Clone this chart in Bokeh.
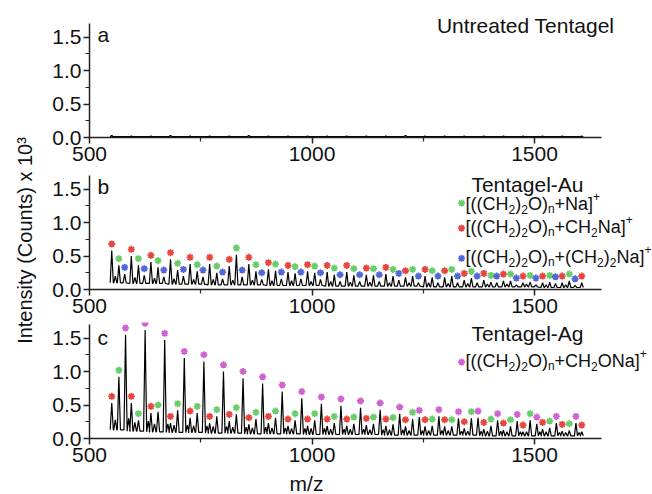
import numpy as np
from bokeh.plotting import figure
from bokeh.layouts import column, row
from bokeh.models import Label, FixedTicker, PrintfTickFormatter, Range1d, ColumnDataSource
from bokeh.embed import file_html
from bokeh.resources import INLINE

# ---------------- data ----------------
x_ticks = [500, 1000, 1500]
x_minor = [750, 1250]
y_ticks = [0.0, 0.5, 1.0, 1.5]
y_minor = [0.25, 0.75, 1.25]
x_axis_span = (500, 1650)
y_axis_span = (0, 1.7)

# peak positions (m/z) of the ion series
red_mz = [550, 594, 638, 682, 726, 770, 814, 858, 902, 946, 990, 1034, 1078,
          1122, 1166, 1210, 1254, 1298, 1342, 1386, 1430, 1474, 1518, 1562, 1606]
green_mz = [566, 610, 654, 698, 742, 786, 830, 874, 918, 962, 1006, 1050,
            1094, 1138, 1182, 1226, 1270, 1314, 1358, 1402, 1446, 1490, 1534, 1578]
blue_mz = [579, 623, 667, 711, 755, 799, 843, 887, 931, 975, 1019, 1063,
           1107, 1151, 1195, 1239, 1283, 1327, 1371, 1415, 1459, 1503, 1547, 1591]
magenta_mz = [581, 625, 669, 713, 757, 801, 845, 889, 933, 977, 1021, 1065,
              1109, 1153, 1197, 1241, 1285, 1329, 1373, 1417, 1461, 1505, 1549, 1593]
# unlabelled small peaks of the traces
minor1_mz = [558, 602, 646, 690, 734, 778, 822, 866, 910, 954, 998, 1042,
             1086, 1130, 1174, 1218, 1262, 1306, 1350, 1394, 1438, 1482, 1526, 1570]
minor2_mz = [588, 632, 676, 720, 764, 808, 852, 896, 940, 984, 1028, 1072,
             1116, 1160, 1204, 1248, 1292, 1336, 1380, 1424, 1468, 1512, 1556, 1600]

# panel a: untreated Tentagel (flat trace)
a_h = [0.03, 0.02, 0.02, 0.03, 0.02, 0.02, 0.02, 0.03, 0.02, 0.02, 0.02, 0.02, 0.02,
       0.02, 0.02, 0.03, 0.02, 0.02, 0.02, 0.02, 0.02, 0.02, 0.02, 0.02, 0.02]
a_valley = [0.01] * 25

# panel b: Tentagel-Au
b_red = [0.58, 0.50, 0.41, 0.45, 0.38, 0.38, 0.35, 0.38, 0.30, 0.26, 0.27, 0.26, 0.26,
         0.22, 0.23, 0.18, 0.20, 0.18, 0.14, 0.14, 0.13, 0.10, 0.10, 0.10, 0.10]
b_green = [0.36, 0.36, 0.33, 0.29, 0.27, 0.25, 0.52, 0.27, 0.28, 0.24, 0.25, 0.22,
           0.21, 0.21, 0.20, 0.20, 0.18, 0.20, 0.17, 0.11, 0.13, 0.11, 0.11, 0.13]
b_blue = [0.23, 0.21, 0.19, 0.20, 0.19, 0.16, 0.19, 0.15, 0.16, 0.16, 0.15, 0.12,
          0.12, 0.12, 0.14, 0.10, 0.10, 0.10, 0.10, 0.10, 0.07, 0.07, 0.09, 0.06]
b_minor1 = [0.20, 0.18, 0.17, 0.16, 0.15, 0.15, 0.14, 0.14, 0.13, 0.13, 0.12, 0.12,
            0.11, 0.11, 0.10, 0.10, 0.10, 0.09, 0.09, 0.08, 0.08, 0.08, 0.07, 0.07]
b_valley = [0.10, 0.09, 0.09, 0.08, 0.08, 0.07, 0.07, 0.07, 0.06, 0.06, 0.06, 0.05, 0.05,
            0.05, 0.05, 0.05, 0.04, 0.04, 0.04, 0.04, 0.04, 0.04, 0.03, 0.03, 0.03]

# panel c: Tentagel-Ag
c_red = [0.53, 0.53, 0.38, 0.23, 0.31, 0.23, 0.26, 0.21, 0.23, 0.19, 0.19, 0.19, 0.19,
         0.20, 0.19, 0.18, 0.18, 0.18, 0.15, 0.14, 0.13, 0.10, 0.14, 0.11, 0.10]
c_green = [0.92, 0.27, 0.40, 0.42, 0.38, 0.33, 0.36, 0.29, 0.31, 0.27, 0.27, 0.23,
           0.22, 0.22, 0.21, 0.29, 0.19, 0.18, 0.30, 0.19, 0.18, 0.27, 0.16, 0.12]
c_magenta = [1.55, 1.62, 1.47, 1.20, 1.15, 1.00, 0.90, 0.82, 0.70, 0.60, 0.52, 0.49,
             0.46, 0.43, 0.37, 0.32, 0.33, 0.30, 0.31, 0.27, 0.26, 0.22, 0.23, 0.23]
c_minor1 = [0.28, 0.24, 0.22, 0.20, 0.19, 0.18, 0.17, 0.16, 0.16, 0.15, 0.15, 0.14,
            0.14, 0.13, 0.13, 0.12, 0.12, 0.12, 0.11, 0.11, 0.10, 0.10, 0.10, 0.09]
c_minor2 = [0.30, 0.26, 0.22, 0.20, 0.19, 0.18, 0.17, 0.17, 0.16, 0.15, 0.15, 0.14,
            0.14, 0.13, 0.13, 0.12, 0.12, 0.11, 0.11, 0.11, 0.10, 0.10, 0.09, 0.09]
c_valley = [0.13, 0.11, 0.10, 0.09, 0.09, 0.08, 0.08, 0.07, 0.07, 0.07, 0.06, 0.06, 0.06,
            0.06, 0.05, 0.05, 0.05, 0.05, 0.05, 0.04, 0.04, 0.04, 0.04, 0.04, 0.04]

titles = ["Untreated Tentagel", "Tentagel-Au", "Tentagel-Ag"]
panel_letters = ["a", "b", "c"]
y_title = "Intensity (Counts) x 10\u00b3"
x_title = "m/z"

# ---------------- style ----------------
FONT = "Liberation Sans"
INK = "#111111"
GREEN = "#6acd6a"
RED = "#e8453f"
BLUE = "#5067d8"
MAGENTA = "#cf62cf"
STAR_LIFT = 0.1
HALF = 3.5
X_VIEW = (500, 1765)
PX_PER_UNIT = 67.0
FULL_W = 652
TITLE_W = 44
PANEL_W = FULL_W - TITLE_W
BASE_FIX = 7   # rendered alphabetic baseline sits lower; lift labels by this

W = {'[': 278, ']': 278, '(': 333, ')': 333, 'C': 722, 'H': 722, 'O': 778,
     'N': 722, 'a': 556, '+': 584, '2': 556, 'n': 556}


def trace(series, valley):
    pts = []
    for mz, hs in series:
        pts += list(zip(mz, hs))
    pts.sort()
    xs, ys = [], []
    for m, h in pts:
        k = min(max(int((m - red_mz[0] + 8) // 44), 0), len(valley) - 1)
        xs += [m - HALF, m, m + HALF]
        ys += [valley[k], h, valley[k]]
    return xs, ys


def make_panel(frame_h, border_bottom=33):
    height = frame_h + border_bottom
    p = figure(width=PANEL_W, height=height, output_backend="svg", toolbar_location=None,
               x_range=Range1d(*X_VIEW), y_range=Range1d(0, frame_h / PX_PER_UNIT),
               min_border_left=45, min_border_right=0,
               min_border_top=0, min_border_bottom=border_bottom)
    p.xgrid.visible = False
    p.ygrid.visible = False
    p.outline_line_color = None
    p.background_fill_color = "white"
    p.border_fill_color = "white"
    p.xaxis.ticker = FixedTicker(ticks=x_ticks, minor_ticks=x_minor)
    p.yaxis.ticker = FixedTicker(ticks=y_ticks, minor_ticks=y_minor)
    p.yaxis.formatter = PrintfTickFormatter(format="%.1f")
    p.xaxis.bounds = x_axis_span
    p.yaxis.bounds = y_axis_span
    for ax in (p.xaxis[0], p.yaxis[0]):
        ax.axis_line_width = 1.5
        ax.axis_line_color = "#222222"
        ax.major_tick_line_color = "#222222"
        ax.minor_tick_line_color = "#222222"
        ax.major_tick_line_width = 1.5
        ax.minor_tick_line_width = 1.2
        ax.major_tick_out = 6
        ax.major_tick_in = 0
        ax.minor_tick_out = 4
        ax.minor_tick_in = 0
        ax.major_label_text_font = FONT
        ax.major_label_text_font_size = "21px"
        ax.major_label_text_color = INK
    p.xaxis.major_label_standoff = 3
    p.yaxis.major_label_standoff = 2
    return p


def stars(p, mz, hs, color):
    src = ColumnDataSource(dict(x=mz, y=[h + STAR_LIFT for h in hs]))
    p.scatter("x", "y", source=src, marker="asterisk", size=7, line_color=color,
              line_width=1.8)


def text(p, x, y, s, size=21, align="left"):
    p.add_layout(Label(x=x, y=y, y_offset=BASE_FIX, text=s, text_font=FONT,
                       text_font_size=f"{size}px", text_align=align,
                       text_baseline="alphabetic", text_color=INK))


def formula(p, x, y, parts):
    off = 0.0
    for txt, kind in parts:
        size = 18 if kind == 'n' else 12
        dy = {'n': 0, 'sub': -5, 'sup': 8}[kind] + 6
        p.add_layout(Label(x=x, y=y, x_offset=off, y_offset=dy, text=txt,
                           text_font=FONT, text_font_size=f"{size}px",
                           text_align="left", text_baseline="alphabetic",
                           text_color=INK))
        off += sum(W[c] for c in txt) / 1000 * size


PEG = [("[((CH", 'n'), ("2", 'sub'), (")", 'n'), ("2", 'sub'), ("O)", 'n'), ("n", 'sub')]
F_NA = PEG + [("+Na]", 'n'), ("+", 'sup')]
F_CH2NA = PEG + [("+CH", 'n'), ("2", 'sub'), ("Na]", 'n'), ("+", 'sup')]
F_C2H4NA = PEG + [("+(CH", 'n'), ("2", 'sub'), (")", 'n'), ("2", 'sub'), ("Na]", 'n'), ("+", 'sup')]
F_CH2ONA = PEG + [("+CH", 'n'), ("2", 'sub'), ("ONa]", 'n'), ("+", 'sup')]

LEG_STAR_X = 1336
LEG_TEXT_X = 1345
STAR_KW = dict(marker="asterisk", size=7, line_width=1.8)

# ---------------- panel a ----------------
pa = make_panel(137)
xs, ys = trace([(red_mz, a_h)], a_valley)
pa.line(xs, ys, line_color="black", line_width=1.5)
text(pa, 518, 1.44, panel_letters[0])
text(pa, 1480, 1.56, titles[0], align="center")

# ---------------- panel b ----------------
pb = make_panel(119)
xs, ys = trace([(red_mz, b_red), (green_mz, b_green), (blue_mz, b_blue),
                (minor1_mz, b_minor1)], b_valley)
pb.line(xs, ys, line_color="black", line_width=1.2)
stars(pb, red_mz, b_red, RED)
stars(pb, green_mz, b_green, GREEN)
stars(pb, blue_mz, b_blue, BLUE)
text(pb, 518, 1.43, panel_letters[1])
text(pb, 1484, 1.47, titles[1], align="center")
leg_b = [(F_NA, GREEN, 1.29, 1.18), (F_CH2NA, RED, 0.915, 0.84), (F_C2H4NA, BLUE, 0.465, 0.39)]
for parts, col, sy, ty in leg_b:
    pb.scatter([LEG_STAR_X], [sy], line_color=col, **STAR_KW)
    formula(pb, LEG_TEXT_X, ty, parts)

# ---------------- panel c ----------------
pc = make_panel(116)
xs, ys = trace([(red_mz, c_red), (green_mz, c_green), (magenta_mz, c_magenta),
                (minor1_mz, c_minor1), (minor2_mz, c_minor2)], c_valley)
pc.line(xs, ys, line_color="black", line_width=1.2)
stars(pc, red_mz, c_red, RED)
stars(pc, green_mz, c_green, GREEN)
stars(pc, magenta_mz, c_magenta, MAGENTA)
text(pc, 518, 1.40, panel_letters[2])
text(pc, 1484, 1.46, titles[2], align="center")
pc.scatter([LEG_STAR_X], [1.14], line_color=MAGENTA, **STAR_KW)
formula(pc, LEG_TEXT_X, 1.06, F_CH2ONA)

# ---------------- y title column ----------------
COL_H = 137 + 33 + 119 + 33 + 116 + 33
pt = figure(width=TITLE_W, height=COL_H, output_backend="svg", toolbar_location=None,
            x_range=Range1d(0, TITLE_W), y_range=Range1d(0, COL_H),
            x_axis_type=None, y_axis_type=None, min_border=0)
pt.grid.visible = False
pt.outline_line_color = None
pt.add_layout(Label(x=24, y=COL_H - 240, text=y_title, angle=np.pi / 2,
                    text_font=FONT, text_font_size="20px", text_align="center",
                    text_baseline="middle", text_color=INK))

# ---------------- x title strip (full width) ----------------
STRIP_H = 494 - COL_H
pm = figure(width=FULL_W, height=STRIP_H, output_backend="svg", toolbar_location=None,
            x_range=Range1d(0, FULL_W), y_range=Range1d(0, STRIP_H),
            x_axis_type=None, y_axis_type=None, min_border=0)
pm.grid.visible = False
pm.outline_line_color = None
text(pm, 306, 4, x_title, align="center")

layout = column(row(pt, column(pa, pb, pc, spacing=0), spacing=0), pm, spacing=0)
open("out.html", "w").write(file_html(layout, INLINE))
